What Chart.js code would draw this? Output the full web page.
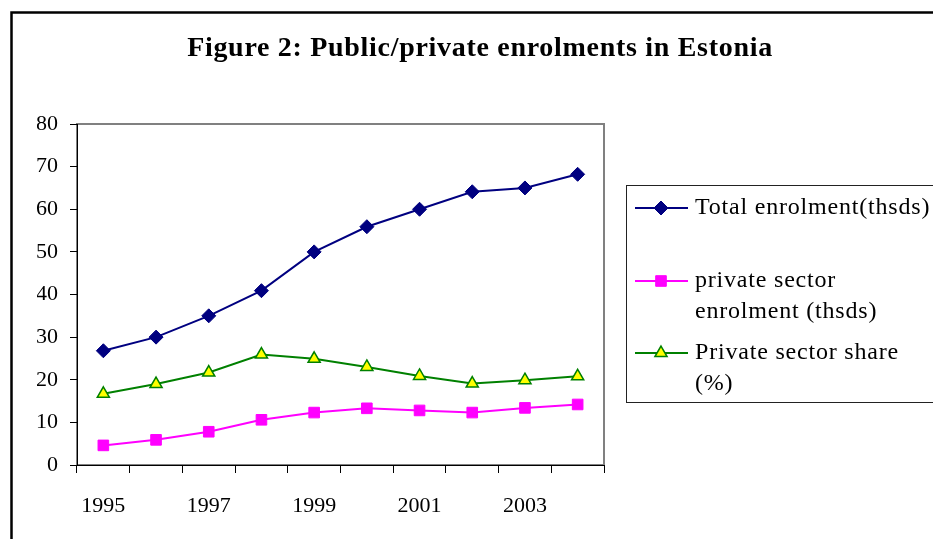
<!DOCTYPE html>
<html>
<head>
<meta charset="utf-8">
<script src="https://cdn.jsdelivr.net/npm/chart.js@4.4.0/dist/chart.umd.min.js"></script>
<style>
  html, body { margin: 0; padding: 0; background: #fff; }
</style>
</head>
<body>
<canvas id="myChart" width="933" height="539"></canvas>
<script>
// data
const years = ['1995', '1996', '1997', '1998', '1999', '2000', '2001', '2002', '2003', '2004'];
const totalEnrolment = [26.8, 30, 35, 40.9, 50, 55.9, 60, 64.1, 65, 68.2];
const privateEnrolment = [4.6, 5.9, 7.8, 10.6, 12.3, 13.3, 12.8, 12.3, 13.4, 14.2];
const privateShare = [16.7, 19.0, 21.7, 25.9, 24.9, 23.0, 20.9, 19.1, 19.9, 20.8];
const seriesLabels = [
  ['Total enrolment(thsds)'],
  ['private sector', 'enrolment (thsds)'],
  ['Private sector share', '(%)']
];
const chartTitle = 'Figure 2: Public/private enrolments in Estonia';

const serif = "'Liberation Serif', 'Times New Roman', serif";

// outer frame, title, plot frame and the legend box
const decor = {
  id: 'decor',
  beforeDraw(chart) {
    const ctx = chart.ctx;
    const a = chart.chartArea;
    ctx.save();
    ctx.fillStyle = '#fff';
    ctx.fillRect(0, 0, chart.width, chart.height);
    // outer border (cut at right/bottom)
    ctx.strokeStyle = '#000';
    ctx.lineWidth = 2.5;
    ctx.beginPath();
    ctx.moveTo(11.5, chart.height + 5);
    ctx.lineTo(11.5, 12.5);
    ctx.lineTo(chart.width + 5, 12.5);
    ctx.stroke();
    // title
    ctx.fillStyle = '#000';
    ctx.font = 'bold 28px ' + serif;
    ctx.letterSpacing = '0.7px';
    ctx.textAlign = 'center';
    ctx.textBaseline = 'middle';
    ctx.fillText(chartTitle, 480, 49);
    ctx.letterSpacing = '0px';
    // grey plot frame
    ctx.strokeStyle = '#808080';
    ctx.lineWidth = 2;
    ctx.strokeRect(a.left, a.top, a.right - a.left, a.bottom - a.top);
    ctx.restore();
  },
  afterDraw(chart) {
    const ctx = chart.ctx;
    ctx.save();
    ctx.strokeStyle = '#222';
    ctx.lineWidth = 1;
    ctx.strokeRect(626.5, 185.5, 330, 217);
    const rowY = [208, 281, 353];
    chart.data.datasets.forEach((ds, i) => {
      const y = rowY[i];
      ctx.strokeStyle = ds.borderColor;
      ctx.lineWidth = 2;
      ctx.beginPath();
      ctx.moveTo(635, y);
      ctx.lineTo(688, y);
      ctx.stroke();
      ctx.fillStyle = ds.pointBackgroundColor;
      ctx.strokeStyle = ds.pointBorderColor;
      ctx.lineWidth = ds.pointBorderWidth;
      Chart.helpers.drawPoint(ctx, {
        pointStyle: ds.pointStyle, radius: ds.pointRadius, rotation: 0, borderWidth: ds.pointBorderWidth
      }, 661, y);
      ctx.fillStyle = '#000';
      ctx.font = '24px ' + serif;
      ctx.letterSpacing = '0.8px';
      ctx.textAlign = 'left';
      ctx.textBaseline = 'middle';
      seriesLabels[i].forEach((line, j) => ctx.fillText(line, 695, y + j * 31));
      ctx.letterSpacing = '0px';
    });
    ctx.restore();
  }
};

const ctx = document.getElementById('myChart').getContext('2d');

new Chart(ctx, {
  type: 'line',
  data: {
    labels: years,
    datasets: [{
      label: seriesLabels[0].join(' '),
      data: totalEnrolment,
      borderColor: '#000080',
      borderWidth: 2,
      pointStyle: 'rectRot',
      pointRadius: 7,
      pointBackgroundColor: '#000080',
      pointBorderColor: '#000080',
      pointBorderWidth: 1
    }, {
      label: seriesLabels[1].join(' '),
      data: privateEnrolment,
      borderColor: '#FF00FF',
      borderWidth: 2,
      pointStyle: 'rect',
      pointRadius: 7.5,
      pointBackgroundColor: '#FF00FF',
      pointBorderColor: '#FF00FF',
      pointBorderWidth: 1
    }, {
      label: seriesLabels[2].join(' '),
      data: privateShare,
      borderColor: '#008000',
      borderWidth: 2,
      pointStyle: 'triangle',
      pointRadius: 7,
      pointBackgroundColor: '#FFFF00',
      pointBorderColor: '#008000',
      pointBorderWidth: 1.5
    }]
  },
  options: {
    responsive: false,
    animation: false,
    layout: { padding: { left: 37, right: 329, top: 124, bottom: 4 } },
    plugins: {
      legend: { display: false },
      title: { display: false },
      tooltip: { enabled: false }
    },
    scales: {
      x: {
        type: 'category',
        offset: true,
        afterFit: s => { s.height = 70; },
        grid: { offset: true, drawOnChartArea: false, tickLength: 8, color: '#000' },
        border: { color: '#000', width: 1 },
        ticks: {
          autoSkip: false,
          maxRotation: 0,
          padding: 20,
          color: '#000',
          font: { family: serif, size: 22 },
          callback: function (v, i) { return i % 2 === 0 ? this.getLabelForValue(v) : ''; }
        }
      },
      y: {
        min: 0,
        max: 80,
        afterFit: s => { s.width = 40; },
        grid: { drawOnChartArea: false, tickLength: 7, color: '#000' },
        border: { color: '#000', width: 1 },
        ticks: {
          stepSize: 10,
          padding: 12,
          color: '#000',
          font: { family: serif, size: 22 }
        }
      }
    }
  },
  plugins: [decor]
});
</script>
</body>
</html>
